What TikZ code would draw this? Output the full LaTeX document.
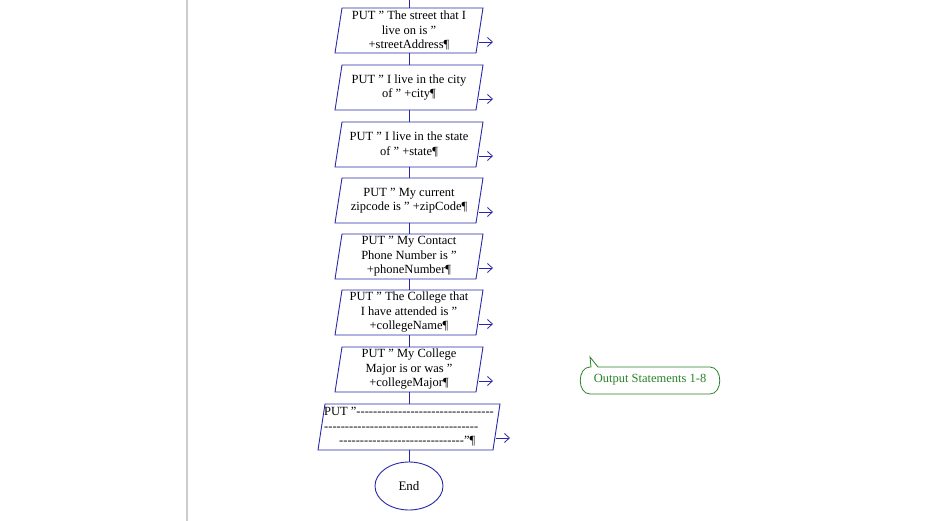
\documentclass[tikz,border=0pt]{standalone}
\usepackage{fontspec}
\setmainfont{Liberation Serif}
\usetikzlibrary{arrows.meta,shapes.geometric}
\definecolor{fb}{RGB}{40,40,170}
\definecolor{cg}{RGB}{40,130,40}
\newcommand\fivedash{-{}-{}-{}-{}-{}}
\begin{document}
\begin{tikzpicture}[x=1pt,y=-1pt,
  flow/.style={draw=fb,line width=0.9pt},
  txt/.style={align=center,font=\fontsize{12.5}{14.5}\selectfont,inner sep=0pt},
  outarrow/.style={draw=fb,line width=0.8pt,-{Straight Barb[length=5pt,width=9pt]}}]
\useasboundingbox (0,0) rectangle (949,521);
\fill[white] (0,0) rectangle (949,521);
\draw[gray!40,line width=2pt] (187,0) -- (187,521);
\foreach \t/\n/\txt in {
 8/b1/{PUT " The street that I\\live on is "\\+streetAddress¶},
 65/b2/{PUT " I live in the city\\of " +city¶},
 122/b3/{PUT " I live in the state\\of " +state¶},
 178/b4/{PUT " My current\\zipcode is " +zipCode¶},
 234/b5/{PUT " My Contact\\Phone Number is "\\+phoneNumber¶},
 290/b6/{PUT " The College that\\I have attended is "\\+collegeName¶},
 347/b7/{PUT " My College\\Major is or was "\\+collegeMajor¶}}{
  \draw[flow] (342,\t) -- (483,\t) -- (476,\t+45) -- (335,\t+45) -- cycle;
  \node[txt] (\n) at (409,\t+22.5) {\txt};
  \coordinate (\n a) at (479,\t+34);
  \draw[outarrow] (\n a) -- ++(14,0);
}
\draw[flow] (325,404) -- (500,404) -- (493,450) -- (318,450) -- cycle;
\node[txt,align=left] (b8) at (409,427) {PUT "\fivedash\fivedash\fivedash\fivedash\fivedash\fivedash-{}-{}-\\\fivedash\fivedash\fivedash\fivedash\fivedash\fivedash\fivedash-{}-\\\hspace*{1.2em}\fivedash\fivedash\fivedash\fivedash\fivedash\fivedash"¶};
\coordinate (b8a) at (496,438);
\draw[outarrow] (b8a) -- ++(14,0);
\node[draw=fb,line width=0.9pt,ellipse,minimum width=68pt,minimum height=48pt,inner sep=0pt,font=\fontsize{13}{15}\selectfont] (e) at (409,486) {End};
\foreach \ya/\yb in {0/8, 53/65, 110/122, 167/178, 223/234, 279/290, 335/347, 392/404}{
  \draw[fb,line width=0.9pt] (409,\ya) -- (409,\yb);
}
\draw[fb,line width=0.9pt] (409,450) -- (e.north);
\draw[cg,line width=0.8pt,fill=white] (598,367) -- (590,357) -- (591,367) -- (590,367)
  .. controls (577,367) and (577,394) .. (590,394) -- (710,394)
  .. controls (723,394) and (723,367) .. (710,367) -- cycle;
\node[text=cg,font=\fontsize{12.5}{14}\selectfont,inner sep=0pt] (c) at (650,380) {Output Statements 1-8};
\end{tikzpicture}
\end{document}
